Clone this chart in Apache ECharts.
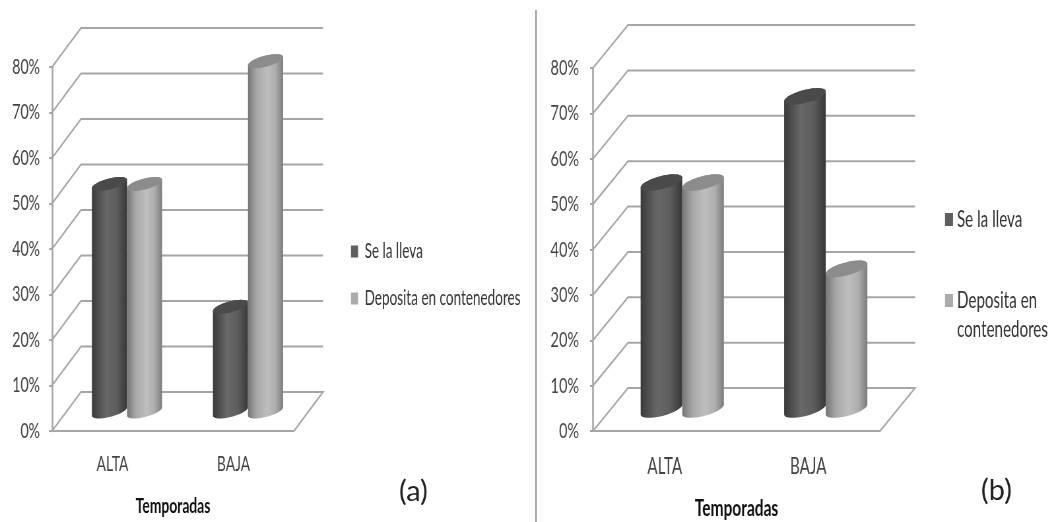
<!DOCTYPE html>
<html><head><meta charset="utf-8">
<style>html,body{margin:0;padding:0;background:#fff;overflow:hidden;width:1050px;height:522px}
#c{width:1590.9px;height:522px;transform:scaleX(0.66);transform-origin:0 0;filter:blur(0.55px)}</style>
<script src="https://cdn.jsdelivr.net/npm/echarts@6/dist/echarts.min.js"></script>
</head><body><div id="c"></div>
<script>
const categories = ['ALTA', 'BAJA'];
const yTicks = [0, 10, 20, 30, 40, 50, 60, 70, 80];
const nameA = 'Se la lleva';
const nameB = 'Deposita en contenedores';
const leftSeLaLleva = [50, 23];
const leftDeposita = [50, 77];
const rightSeLaLleva = [50, 69];
const rightDeposita = [50, 31];

const S = 0.66;               // the reference's text is horizontally squeezed; the whole canvas is scaled by S
const X = v => v / S;
const FONT = 'Lato,"Open Sans",sans-serif';
const panels = [
  {left: 52, top: 67, width: 242, height: 364, dx: 29, dy: 39, tickFont: 21.5, tickMargin: 12, catFont: 21, catMargin: 23, nameFont: 21, nameGap: 65},
  {left: 593, top: 68, width: 287, height: 363, dx: 35, dy: 43, tickFont: 22, tickMargin: 14, catFont: 23, catMargin: 24, nameFont: 23.5, nameGap: 65}
];
const looks = {
  dark: {stops: [[0, '#3a3a3a'], [0.4, '#686868'], [0.7, '#5e5e5e'], [1, '#373737']], cap: '#4a4a4a'},
  light: {stops: [[0, '#767676'], [0.25, '#a8a8a8'], [0.55, '#bebebe'], [0.78, '#aeaeae'], [1, '#7c7c7c']], cap: '#8c8c8c'}
};

function wallItem(p) {
  return function (params, api) {
    const cs = params.coordSys;
    const v = api.value(1);
    const y = api.coord([0, v])[1];
    const x0 = cs.x, x1 = cs.x + cs.width;
    const dx = X(p.dx);
    const pts = [[x0, y], [x0 + dx, y - p.dy], [x1 + dx, y - p.dy]];
    if (v === 0) pts.push([x1, y], [x0, y]);
    return {type: 'polyline', shape: {points: pts}, silent: true,
      style: {fill: null, stroke: '#a6a6a6', lineWidth: 2}};
  };
}

function cylinderItem(p, look, side) {
  return function (params, api) {
    const band = api.size([1, 0])[0];
    const w = band * 0.29;
    const rx = w / 2, wReal = w * S, ry = wReal * 0.16, k = wReal * 0.12;
    const cat = api.value(0);
    const top = api.coord([cat, api.value(1)]);
    const base = api.coord([cat, 0]);
    const cx = top[0] + X(p.dx) / 2 + side * rx;
    const ty = top[1] - p.dy / 2, by = base[1] - p.dy / 2;
    const pt = (cy, a) => [cx + rx * Math.cos(a), cy + ry * Math.sin(a) - k * Math.cos(a)];
    const bodyPts = [], capPts = [];
    for (let i = 0; i <= 24; i++) bodyPts.push(pt(by, Math.PI * i / 24));
    for (let i = 0; i <= 24; i++) bodyPts.push(pt(ty, Math.PI + Math.PI * i / 24));
    for (let i = 0; i < 48; i++) capPts.push(pt(ty, Math.PI * i / 24));
    return {type: 'group', children: [
      {type: 'polygon', shape: {points: bodyPts}, style: {fill: new echarts.graphic.LinearGradient(0, 0, 1, 0,
        look.stops.map(s => ({offset: s[0], color: s[1]})))}},
      {type: 'polygon', shape: {points: capPts}, style: {fill: look.cap}}
    ]};
  };
}

const legendBase = {icon: 'rect', selectedMode: false, itemGap: 0, padding: 0};
const option = {
  animation: false,
  backgroundColor: '#fff',
  textStyle: {fontFamily: FONT},
  grid: panels.map(p => ({left: X(p.left), top: p.top, width: X(p.width), height: p.height, outerBoundsMode: 'none'})),
  xAxis: panels.map((p, i) => ({
    gridIndex: i, type: 'category', data: categories,
    name: 'Temporadas', nameLocation: 'middle', nameGap: p.nameGap,
    nameTextStyle: {fontFamily: FONT, fontWeight: 'bold', fontSize: p.nameFont, color: '#111'},
    axisLine: {show: false}, axisTick: {show: false},
    axisLabel: {margin: p.catMargin, fontSize: p.catFont, color: '#444', fontFamily: FONT},
    splitLine: {show: false}
  })),
  yAxis: panels.map((p, i) => ({
    gridIndex: i, type: 'value', min: 0, max: 80, interval: 10,
    axisLine: {show: true, lineStyle: {color: '#a6a6a6', width: 2.6}},
    axisTick: {show: true, length: X(3), lineStyle: {color: '#a6a6a6', width: 2}},
    axisLabel: {formatter: '{value}%', margin: X(p.tickMargin), fontSize: p.tickFont, color: '#444', fontFamily: FONT},
    splitLine: {show: false}
  })),
  legend: [
    {...legendBase, left: X(351), top: 241, data: [nameA], itemWidth: X(7), itemHeight: 12,
      textStyle: {fontSize: 20.5, color: '#333', fontFamily: FONT, padding: [0, 0, 0, 5]}},
    {...legendBase, left: X(351), top: 288, data: [nameB], itemWidth: X(7), itemHeight: 12,
      textStyle: {fontSize: 20.5, color: '#333', fontFamily: FONT, padding: [0, 0, 0, 5]}},
    {...legendBase, left: X(945), top: 208, data: [nameA], itemWidth: X(8), itemHeight: 13,
      textStyle: {fontSize: 23, color: '#333', fontFamily: FONT, padding: [0, 0, 0, 1]}},
    {...legendBase, left: X(945), top: 289, data: [nameB], itemWidth: X(8), itemHeight: 13,
      formatter: () => 'Deposita en',
      textStyle: {fontSize: 23, color: '#333', fontFamily: FONT, padding: [0, 0, 0, 1]}}
  ],
  graphic: [
    {type: 'line', shape: {x1: X(536), y1: 10, x2: X(536), y2: 522}, style: {stroke: '#8a8a8a', lineWidth: 2}},
    {type: 'text', x: X(957), y: 318, style: {text: 'contenedores', fontSize: 23, fill: '#333', fontFamily: FONT}},
    {type: 'text', x: X(399), y: 477, scaleX: 1 / S, style: {text: '(a)', fontSize: 29, fill: '#222', fontFamily: FONT}},
    {type: 'text', x: X(981), y: 476, scaleX: 1 / S, style: {text: '(b)', fontSize: 29, fill: '#222', fontFamily: FONT}}
  ],
  series: [
    {type: 'custom', xAxisIndex: 0, yAxisIndex: 0, z: 1, renderItem: wallItem(panels[0]), data: yTicks.map(v => [0, v]), encode: {x: 0, y: 1}, silent: true},
    {type: 'custom', xAxisIndex: 1, yAxisIndex: 1, z: 1, renderItem: wallItem(panels[1]), data: yTicks.map(v => [0, v]), encode: {x: 0, y: 1}, silent: true},
    {type: 'custom', name: nameA, xAxisIndex: 0, yAxisIndex: 0, z: 2, itemStyle: {color: '#5f5f5f'}, renderItem: cylinderItem(panels[0], looks.dark, -1), data: leftSeLaLleva.map((v, i) => [i, v]), encode: {x: 0, y: 1}},
    {type: 'custom', name: nameB, xAxisIndex: 0, yAxisIndex: 0, z: 3, itemStyle: {color: '#ababab'}, renderItem: cylinderItem(panels[0], looks.light, 1), data: leftDeposita.map((v, i) => [i, v]), encode: {x: 0, y: 1}},
    {type: 'custom', name: nameA, xAxisIndex: 1, yAxisIndex: 1, z: 2, itemStyle: {color: '#5f5f5f'}, renderItem: cylinderItem(panels[1], looks.dark, -1), data: rightSeLaLleva.map((v, i) => [i, v]), encode: {x: 0, y: 1}},
    {type: 'custom', name: nameB, xAxisIndex: 1, yAxisIndex: 1, z: 3, itemStyle: {color: '#ababab'}, renderItem: cylinderItem(panels[1], looks.light, 1), data: rightDeposita.map((v, i) => [i, v]), encode: {x: 0, y: 1}}
  ]
};
const chart = echarts.init(document.getElementById('c'));
chart.setOption(option);
</script></body></html>
